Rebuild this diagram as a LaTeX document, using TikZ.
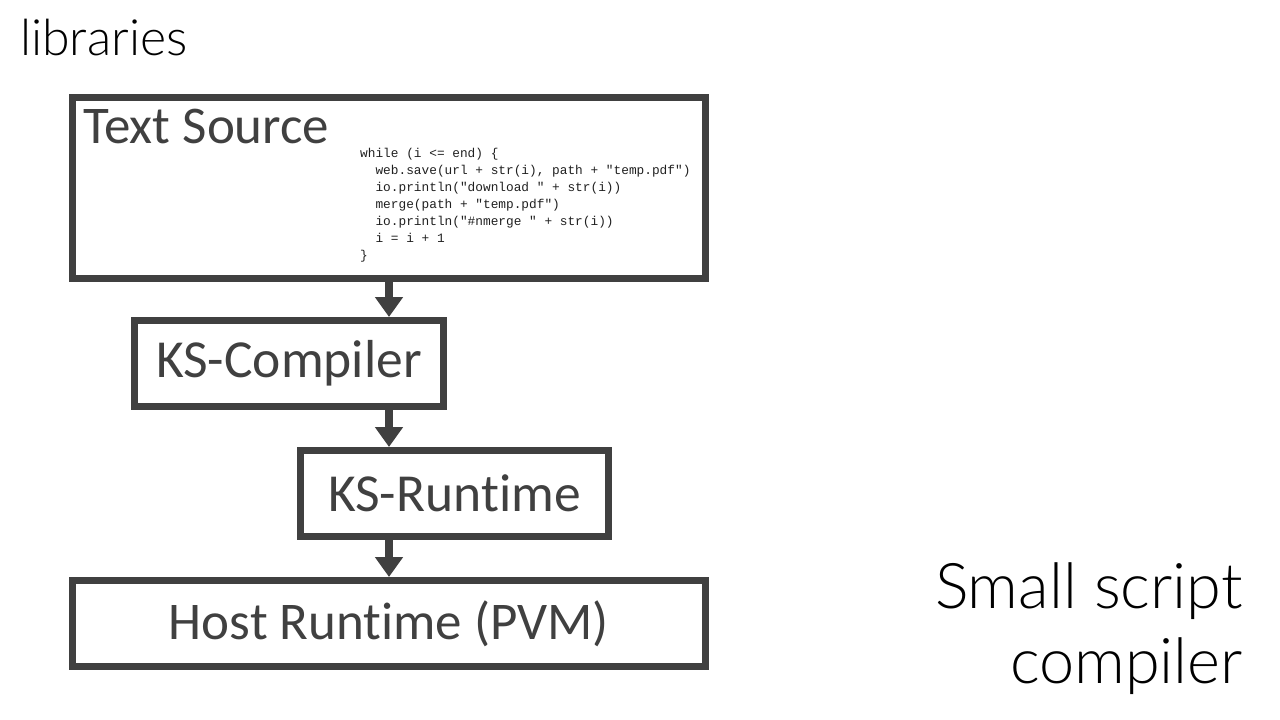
\documentclass[tikz,border=0pt]{standalone}
\usepackage{fontspec}
\setmainfont{Carlito}[Ligatures={NoCommon}]
\setmonofont{Liberation Mono}
\newfontfamily\lightfont{Lato Light}
\usetikzlibrary{arrows.meta,positioning,calc}
\definecolor{boxgray}{HTML}{404040}
\definecolor{codeblack}{HTML}{202020}

\begin{document}
\begin{tikzpicture}[
      x=1pt, y=-1pt,
      box/.style={rectangle, draw=boxgray, line width=7pt, inner sep=0pt, text=boxgray},
      title/.style={anchor=base west, inner sep=0pt, text=boxgray},
      side/.style={inner sep=0pt, text=black},
      arrow/.style={-{Triangle[length=20pt, width=27pt]}, line width=8pt, color=boxgray}
    ]
      \useasboundingbox (0,0) rectangle (1280,720);

      \node[box, minimum width=633pt, minimum height=181pt] (src) at (389,188) {};
      \node[title, font=\fontsize{53}{53}\selectfont] (srctitle) at (83,143) {Text Source};
      \node[anchor=north west, inner sep=0pt, align=left, text=codeblack,
            font=\ttfamily\fontsize{12.8}{17}\selectfont] (code) at (360,148)
        {while (i <= end) \{\\
         \ \ web.save(url + str(i), path + "temp.pdf")\\
         \ \ io.println("download " + str(i))\\
         \ \ merge(path + "temp.pdf")\\
         \ \ io.println("\#nmerge " + str(i))\\
         \ \ i = i + 1\\
         \}};

      \node[box, minimum width=309pt, minimum height=86pt, font=\fontsize{53.5}{53.5}\selectfont] (cmp) at (289,363.5) {KS-Compiler};
      \node[box, minimum width=308pt, minimum height=86pt, font=\fontsize{53.5}{53.5}\selectfont] (rt) at (454.5,493.5) {KS-Runtime};
      \node[box, minimum width=633pt, minimum height=86pt, font=\fontsize{53}{53}\selectfont] (host) at (389,623.5) {Host Runtime (PVM)};

      \draw[arrow] (src.south) -- (src.south |- cmp.north);
      \draw[arrow] (src.south |- cmp.south) -- (src.south |- rt.north);
      \draw[arrow] (src.south |- rt.south) -- (src.south |- host.north);

      \node[side, anchor=base west, font=\lightfont\fontsize{50}{50}\selectfont] (lib) at (20,55) {libraries};
      \node[side, anchor=base east, font=\lightfont\fontsize{63}{63}\selectfont] (small) at (1243,608) {Small script};
      \node[side, anchor=base east, font=\lightfont\fontsize{63}{63}\selectfont] (comp) at (1243,683) {compiler};
    \end{tikzpicture}
\end{document}
